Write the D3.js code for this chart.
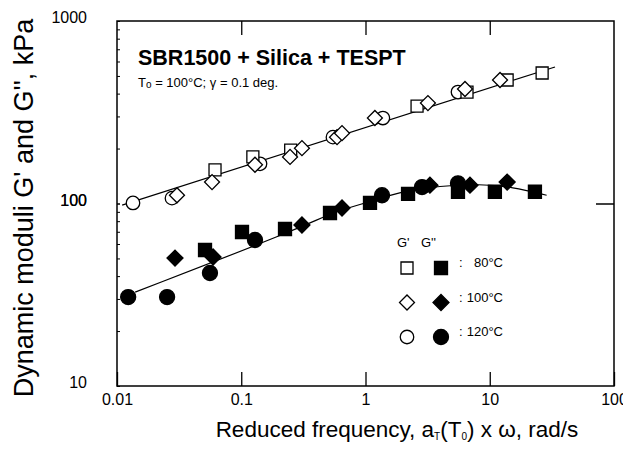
<!DOCTYPE html>
<html>
<head>
<meta charset="utf-8">
<script src="https://cdn.jsdelivr.net/npm/d3@7"></script>
<style>
  body { margin: 0; background: #fff; }
  text { font-family: "Liberation Sans", Arial, sans-serif; fill: #000; }
</style>
</head>
<body>
<div id="chart"></div>
<script>
// values
var xTickValues = [0.01, 0.1, 1, 10, 100];
var yTickValues = [10, 100, 1000];
var temps = ["80°C", "100°C", "120°C"];

// storage modulus G' (kPa) vs reduced frequency (rad/s)
var gp80Freq  = [0.0615, 0.124, 0.25, 2.6, 6.56, 13.8, 26.4];
var gp80Mod   = [153, 180, 196, 342, 408, 475, 519];
var gp100Freq = [0.0304, 0.0582, 0.129, 0.247, 0.308, 0.59, 0.647, 1.19, 3.18, 6.32, 12.1];
var gp100Mod  = [111, 131, 163, 180, 201, 231, 243, 294, 355, 424, 475];
var gp120Freq = [0.01345, 0.0277, 0.1416, 0.547, 1.38, 5.55];
var gp120Mod  = [100.7, 107, 165, 231, 294, 408];

// loss modulus G'' (kPa)
var gpp80Freq  = [0.0511, 0.1014, 0.225, 0.518, 1.087, 2.2, 5.55, 11.0, 23.1];
var gpp80Mod   = [55.6, 69.8, 72.5, 88.7, 100.7, 113, 116, 116, 116];
var gpp100Freq = [0.0293, 0.0593, 0.308, 0.647, 3.3, 6.93, 13.8];
var gpp100Mod  = [50.2, 50.9, 76.2, 94.5, 126, 126, 131];
var gpp120Freq = [0.0123, 0.0253, 0.056, 0.129, 1.358, 2.85, 5.55];
var gpp120Mod  = [30.7, 30.7, 41.6, 63.1, 111, 123, 129];

// fitted curves
var fitGpFreq  = [0.011, 33.5];
var fitGpMod   = [98, 560];
var fitGppFreq = [0.014, 0.297, 0.547, 1.09, 1.89, 3.98, 8.3, 15.3, 28.7];
var fitGppMod  = [32.7, 73, 90, 102, 116, 125, 128, 123, 111];

var width = 623, height = 454;
var plotL = 117, plotT = 21, plotR = 614, plotB = 386;

var svg = d3.select('#chart').append('svg')
    .attr('width', width)
    .attr('height', height);

var x = d3.scaleLog().domain([0.01, 100]).range([plotL, plotR]);
var y = d3.scaleLog().domain([10, 1000]).range([plotB, plotT]);

function pts(fx, fy) {
    return fx.map(function (v, i) { return [v, fy[i]]; });
}

// frame
svg.append('rect')
    .attr('x', plotL).attr('y', plotT)
    .attr('width', plotR - plotL).attr('height', plotB - plotT)
    .attr('fill', 'none').attr('stroke', '#000').attr('stroke-width', 1.5);

// bottom axis
var xAxis = svg.append('g')
    .attr('transform', 'translate(0,' + plotB + ')')
    .call(d3.axisBottom(x).tickValues(xTickValues).tickSize(-14).tickPadding(8)
        .tickFormat(function (d) { return String(d); }));
xAxis.select('.domain').remove();
xAxis.selectAll('line').attr('stroke-width', 1.3);
xAxis.selectAll('text').attr('font-size', 16);

// top axis
var xTop = svg.append('g')
    .attr('transform', 'translate(0,' + plotT + ')')
    .call(d3.axisTop(x).tickValues(xTickValues.slice(1, 4)).tickSize(-14).tickFormat(''));
xTop.select('.domain').remove();
xTop.selectAll('line').attr('stroke-width', 1.3);

// left axis, minor ticks + labels
var minor = [];
[10, 100].forEach(function (b) { for (var k = 1; k <= 10; k++) minor.push(b * k); });
var yAxis = svg.append('g')
    .attr('transform', 'translate(' + plotL + ',0)')
    .call(d3.axisLeft(y).tickValues(minor).tickSize(-3).tickPadding(30)
        .tickFormat(function (d) { return yTickValues.indexOf(d) >= 0 ? String(d) : ''; }));
yAxis.select('.domain').remove();
yAxis.selectAll('line').attr('stroke-width', 1);
yAxis.selectAll('text').attr('font-size', 16).attr('dy', '0.1em');

// right axis
var yRight = svg.append('g')
    .attr('transform', 'translate(' + plotR + ',0)')
    .call(d3.axisRight(y).tickValues([100]).tickSize(-18).tickFormat(''));
yRight.select('.domain').remove();
yRight.selectAll('line').attr('stroke-width', 1.5);

// fitted curves
var line = d3.line()
    .x(function (d) { return x(d[0]); })
    .y(function (d) { return y(d[1]); });

svg.append('path')
    .attr('d', line(pts(fitGpFreq, fitGpMod)))
    .attr('fill', 'none').attr('stroke', '#000').attr('stroke-width', 1.2);
svg.append('path')
    .attr('d', line.curve(d3.curveBasis)(pts(fitGppFreq, fitGppMod)))
    .attr('fill', 'none').attr('stroke', '#000').attr('stroke-width', 1.2);

// markers
function marker(type, size, filled) {
    var sym = type === 'circle' ? d3.symbolCircle : d3.symbolSquare;
    return { path: d3.symbol().type(sym).size(size)(), rot: type === 'diamond' ? 45 : 0, filled: filled };
}
var shapes = {
    open:   [marker('square', 144, false), marker('diamond', 112, false), marker('circle', 143, false)],
    filled: [marker('square', 169, true),  marker('diamond', 128, true),  marker('circle', 177, true)]
};

function drawSeries(data, m) {
    svg.append('g').selectAll('path')
        .data(data)
        .enter()
        .append('path')
        .attr('d', m.path)
        .attr('transform', function (d) {
            return 'translate(' + x(d[0]) + ',' + y(d[1]) + ') rotate(' + m.rot + ')';
        })
        .attr('fill', m.filled ? '#000' : '#fff')
        .attr('stroke', '#000')
        .attr('stroke-width', 1.3);
}

// circles under squares under diamonds
drawSeries(pts(gp120Freq, gp120Mod), shapes.open[2]);
drawSeries(pts(gp80Freq, gp80Mod), shapes.open[0]);
drawSeries(pts(gp100Freq, gp100Mod), shapes.open[1]);
drawSeries(pts(gpp120Freq, gpp120Mod), shapes.filled[2]);
drawSeries(pts(gpp80Freq, gpp80Mod), shapes.filled[0]);
drawSeries(pts(gpp100Freq, gpp100Mod), shapes.filled[1]);

// title block
svg.append('text')
    .attr('x', 138).attr('y', 65)
    .attr('font-size', 21.5).attr('font-weight', 'bold')
    .text('SBR1500 + Silica + TESPT');
var sub = svg.append('text').attr('x', 138).attr('y', 87).attr('font-size', 13);
sub.append('tspan').text('T');
sub.append('tspan').attr('font-size', 10).attr('dy', 1).text('o');
sub.append('tspan').attr('dy', -1).text(' = 100°C; γ = 0.1 deg.');

// legend
svg.append('text').attr('x', 397).attr('y', 247).attr('font-size', 13).text("G'");
svg.append('text').attr('x', 421).attr('y', 247).attr('font-size', 13).text("G''");
temps.forEach(function (t, i) {
    var cy = 268 + i * 34.5;
    [[407, shapes.open[i]], [441, shapes.filled[i]]].forEach(function (p) {
        var m = p[1];
        svg.append('path')
            .attr('d', m.path)
            .attr('transform', 'translate(' + p[0] + ',' + cy + ') rotate(' + m.rot + ')')
            .attr('fill', m.filled ? '#000' : '#fff')
            .attr('stroke', '#000').attr('stroke-width', 1.3);
    });
    svg.append('text').attr('x', 459).attr('y', cy - 1).attr('font-size', 13).text(':');
    svg.append('text').attr('x', 503).attr('y', cy - 1).attr('font-size', 13)
        .attr('text-anchor', 'end').text(t);
});

// axis titles
var xt = svg.append('text')
    .attr('x', 397).attr('y', 437)
    .attr('font-size', 22.5).attr('text-anchor', 'middle');
xt.append('tspan').text('Reduced frequency, a');
xt.append('tspan').attr('font-size', 10).attr('dy', 3).text('T');
xt.append('tspan').attr('dy', -3).text('(T');
xt.append('tspan').attr('font-size', 10).attr('dy', 3).text('0');
xt.append('tspan').attr('dy', -3).text(') x ω, rad/s');

svg.append('text')
    .attr('transform', 'translate(33,208) rotate(-90)')
    .attr('font-size', 27).attr('text-anchor', 'middle')
    .text("Dynamic moduli G' and G'', kPa");
</script>
</body>
</html>
